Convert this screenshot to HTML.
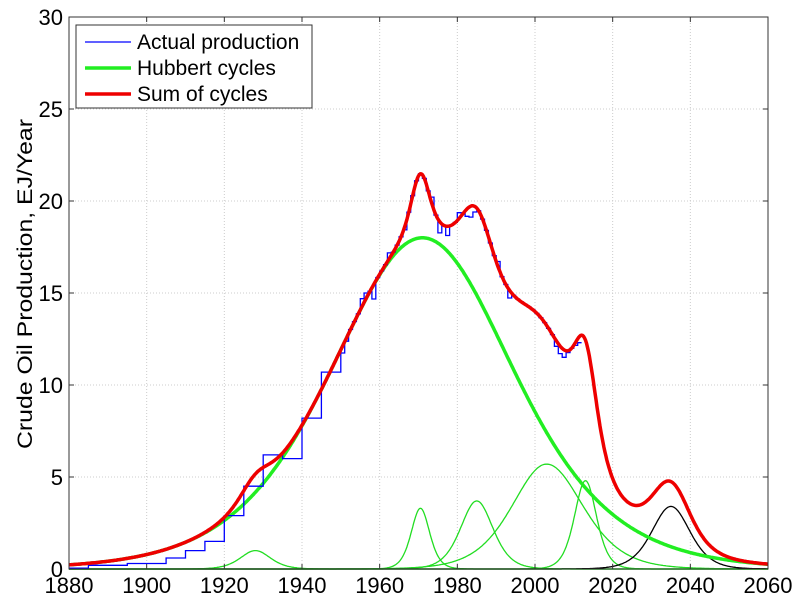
<!DOCTYPE html>
<html><head><meta charset="utf-8"><style>
body{margin:0;background:#fff;width:800px;height:600px;overflow:hidden}
text{font-family:"Liberation Sans",Arial,sans-serif}
</style></head><body>
<svg id="s" width="800" height="600" xmlns="http://www.w3.org/2000/svg"></svg>
<script>
const s=document.getElementById('s');
const X=t=>69+(t-1880)*(699/180), Y=v=>569-v*18.4;
let h='';
for(let t=1900;t<2060;t+=20)h+=`<line x1="${X(t)}" y1="17" x2="${X(t)}" y2="569" stroke="#ccc" stroke-dasharray="1,2"/>`;
for(let v=5;v<30;v+=5)h+=`<line x1="69" y1="${Y(v)}" x2="768" y2="${Y(v)}" stroke="#ccc" stroke-dasharray="1,2"/>`;
const comps=[[1971,18,15.8,15.8],[1928,1.0,2.6,2.6],[1970.5,3.3,1.6,1.6],[1985,3.7,2.8,2.8],[2003,5.7,6,6.3],[2013,4.8,1.9,1.9],[2035,3.4,3.3,3.3]];
const f=(c,t)=>{const w=t<c[0]?c[2]:c[3];return 2*c[1]/(1+Math.cosh((t-c[0])/w));};
const sum=t=>comps.reduce((a,c)=>a+f(c,t),0);
function path(fn,col,w){let d='';for(let t=1880;t<=2060;t+=0.25)d+=(d?'L':'M')+X(t).toFixed(1)+','+Y(fn(t)).toFixed(1);return `<path d="${d}" fill="none" stroke="${col}" stroke-width="${w}"/>`;}
comps.forEach((c,i)=>{if(i>0)h+=path(t=>f(c,t),i==6?'#000':'#2d2',1.3);});
h+=path(t=>f(comps[0],t),'#2e2',3.5);
const early=[[1880,0.05],[1890,0.2],[1900,0.3],[1905,0.6],[1910,1.0],[1915,1.5],[1920,2.9],[1925,4.5],[1930,6.2],[1935,6.0],[1940,8.2],[1945,10.7]];
let d='';
early.forEach((e,i)=>{d+=(i?'V':'M'+X(e[0]).toFixed(1)+',')+Y(e[1]).toFixed(1)+'H'+X(e[0]+5).toFixed(1);});
const noise={1950:-0.4,1951:-0.2,1955:0.4,1956:0.3,1958:-0.8,1962:0.3,1966:-0.2,1973:0.4,1975:-0.6,1977:-0.5,1980:0.3,1982:-0.4,1983:-0.6,1984:-0.3,1990:0.3,1993:-0.4,2005:-0.3,2006:-0.4,2007:-0.4,2008:-0.1};
for(let t=1950;t<2012;t++){let v=sum(t+0.5)+(noise[t]||0);if(t>=2009)v=12.0+(t-2009)*0.15;d+='V'+Y(v).toFixed(1)+'H'+X(t+1).toFixed(1);}
h+=`<path d="${d}" fill="none" stroke="#00f" stroke-width="1.3"/>`;
h+=path(sum,'#e00',3.5);
h+=`<rect x="69" y="17" width="699" height="552" fill="none" stroke="#333"/>`;
for(let t=1880;t<=2060;t+=20){h+=`<line x1="${X(t)}" y1="569" x2="${X(t)}" y2="564" stroke="#333"/><line x1="${X(t)}" y1="17" x2="${X(t)}" y2="22" stroke="#333"/><text x="${X(t)}" y="593" font-size="22" text-anchor="middle">${t}</text>`;}
for(let v=0;v<=30;v+=5){h+=`<line x1="69" y1="${Y(v)}" x2="74" y2="${Y(v)}" stroke="#333"/><line x1="768" y1="${Y(v)}" x2="763" y2="${Y(v)}" stroke="#333"/><text x="63" y="${Y(v)+8}" font-size="22" text-anchor="end">${v}</text>`;}
h+=`<text transform="translate(32,284) rotate(-90)" font-size="21" text-anchor="middle" textLength="330" lengthAdjust="spacingAndGlyphs">Crude Oil Production, EJ/Year</text>`;
h+=`<rect x="76" y="25" width="236" height="83" fill="#fff" stroke="#333"/>`;
[['Actual production','#00f',1.3],['Hubbert cycles','#2e2',3.5],['Sum of cycles','#e00',3.5]].forEach((r,i)=>{const y=42+i*26;h+=`<line x1="85" y1="${y}" x2="131" y2="${y}" stroke="${r[1]}" stroke-width="${r[2]}"/><text x="137" y="${y+7}" font-size="21">${r[0]}</text>`;});
s.innerHTML=h;
</script>
</body></html>
